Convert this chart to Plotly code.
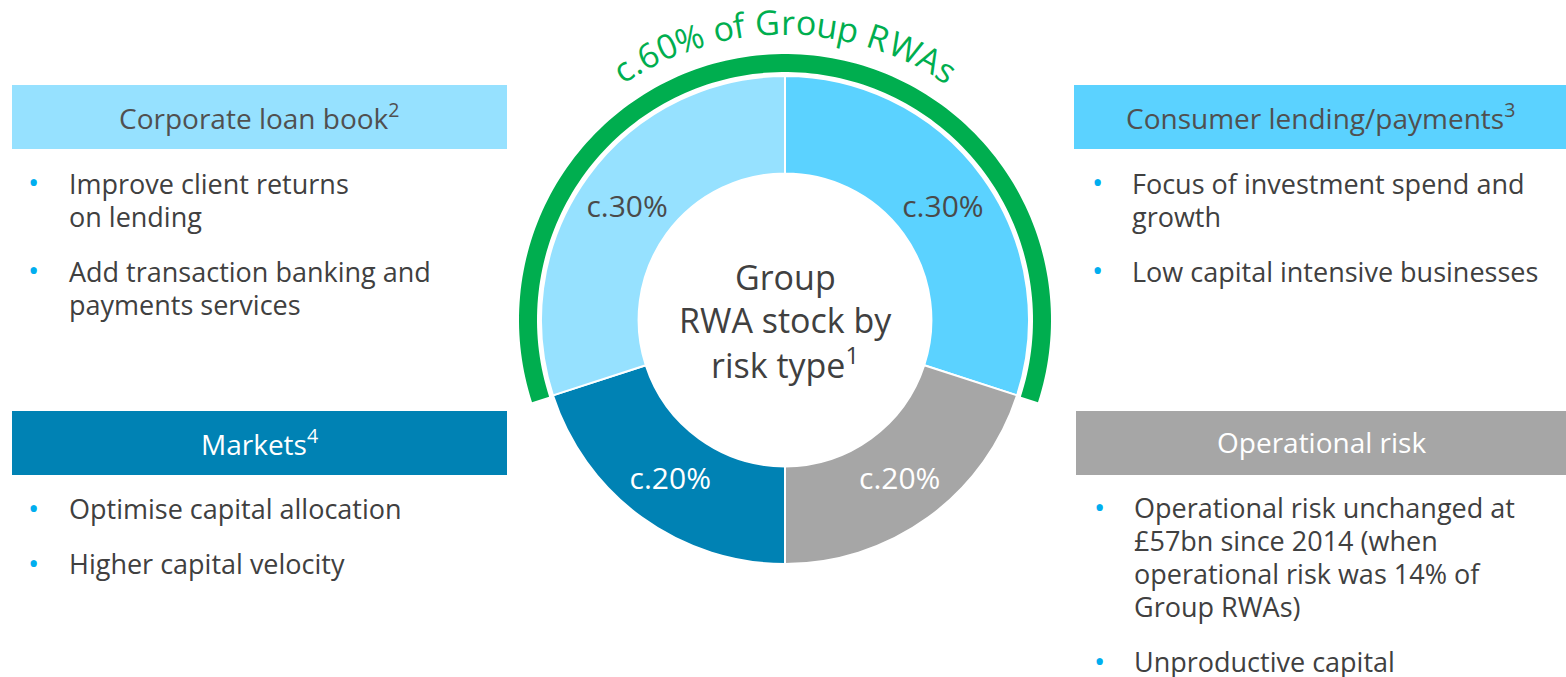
import numpy as np
import plotly.graph_objects as go

W, H = 1566, 677

# ---------------- data ----------------
segments = ["Consumer lending/payments", "Operational risk", "Markets", "Corporate loan book"]
shares = [30, 20, 20, 30]
share_labels = ["c.30%", "c.20%", "c.20%", "c.30%"]
highlighted = ["Corporate loan book", "Consumer lending/payments"]
arc_title = "c.60% of Group RWAs"
center_lines = ["Group", "RWA stock by", "risk type<sup>1</sup>"]

panel_titles = ["Corporate loan book<sup>2</sup>", "Consumer lending/payments<sup>3</sup>",
                "Markets<sup>4</sup>", "Operational risk"]
panel_bullets = [
    [["Improve client returns", "on lending"], ["Add transaction banking and", "payments services"]],
    [["Focus of investment spend and", "growth"], ["Low capital intensive businesses"]],
    [["Optimise capital allocation"], ["Higher capital velocity"]],
    [["Operational risk unchanged at", "£57bn since 2014 (when", "operational risk was 14% of", "Group RWAs)"],
     ["Unproductive capital"]],
]

# ---------------- styles ----------------
seg_colors = ["#5BD2FF", "#A6A6A6", "#0082B4", "#96E1FF"]
seg_text_colors = ["#4A4A4A", "#FFFFFF", "#FFFFFF", "#4A4A4A"]
panel_fill = ["#96E1FF", "#5BD2FF", "#0082B4", "#A6A6A6"]
panel_text = ["#505050", "#505050", "#FFFFFF", "#FFFFFF"]
GREEN = "#00AE4F"
TXT = "#404040"
BULLET = "#00AEEF"
FONT = "Open Sans"

# layout geometry (pixels, top-down)
cx, cy, r = 785, 320, 244
panel_boxes = [(12, 85, 507, 149), (1074, 85, 1566, 149), (12, 411, 507, 475), (1076, 411, 1566, 475)]
panel_text_x = [67, 1130, 67, 1132]
panel_bullet_x = [33, 1097, 33, 1099]
panel_first_line_y = [183, 183, 508, 507]
line_gap = 33
para_gap = 55


def px(x):
    return x / W


def py(y):
    return 1 - y / H


fig = go.Figure()

fig.add_trace(go.Pie(
    labels=segments, values=shares, text=share_labels, textinfo="text",
    sort=False, direction="clockwise", rotation=0, hole=0.6,
    marker=dict(colors=seg_colors, line=dict(color="white", width=2)),
    textfont=dict(family=FONT, size=30, color=seg_text_colors),
    insidetextorientation="horizontal", textposition="inside",
    hoverinfo="label+percent", showlegend=False,
    domain=dict(x=[px(cx - r), px(cx + r)], y=[py(cy + r), py(cy - r)]),
))

shapes = []
annotations = []

# green highlight arc spanning the highlighted segments (derived from shares)
total = float(sum(shares))
corp_share = sum(s for n, s in zip(segments, shares) if n == "Corporate loan book")
cons_share = sum(s for n, s in zip(segments, shares) if n == "Consumer lending/payments")
a0 = -corp_share / total * 2 * np.pi
a1 = cons_share / total * 2 * np.pi
r_in, r_out = 248, 266
t = np.linspace(a0, a1, 160)
outer = [(cx + r_out * np.sin(a), cy - r_out * np.cos(a)) for a in t]
inner = [(cx + r_in * np.sin(a), cy - r_in * np.cos(a)) for a in t[::-1]]
pts = outer + inner
path = "M " + " L ".join(f"{px(x):.5f},{py(y):.5f}" for x, y in pts) + " Z"
shapes.append(dict(type="path", path=path, xref="paper", yref="paper",
                   fillcolor=GREEN, line=dict(width=0), layer="above"))

# curved title along the arc
adv = {" ": 0.26, ".": 0.266, "c": 0.49, "6": 0.572, "0": 0.572, "%": 0.828, "o": 0.604,
       "f": 0.343, "G": 0.726, "r": 0.408, "u": 0.614, "p": 0.613, "R": 0.633, "W": 0.943,
       "A": 0.633, "s": 0.477}
fs_arc = 34
R_base = 285
widths = [adv.get(ch, 0.55) * fs_arc for ch in arc_title]
total_w = sum(widths)
start = -total_w / 2.0
acc = start
for ch, w in zip(arc_title, widths):
    mid = acc + w / 2.0
    acc += w
    if ch == " ":
        continue
    th = mid / R_base
    rc = R_base + 0.39 * fs_arc
    x = cx + rc * np.sin(th)
    y = cy - rc * np.cos(th)
    annotations.append(dict(x=px(x), y=py(y), xref="paper", yref="paper", text=ch,
                            showarrow=False, textangle=float(np.degrees(th)),
                            xanchor="center", yanchor="middle",
                            font=dict(family=FONT, size=fs_arc, color=GREEN)))

# centre text
for i, line in enumerate(center_lines):
    annotations.append(dict(x=px(cx), y=py(cy - 43 + 43 * i), xref="paper", yref="paper",
                            text=line, showarrow=False, xanchor="center", yanchor="middle",
                            font=dict(family=FONT, size=34, color=TXT)))

# panels
for k in range(4):
    x0, y0, x1, y1 = panel_boxes[k]
    shapes.append(dict(type="rect", xref="paper", yref="paper",
                       x0=px(x0), x1=px(x1), y0=py(y1), y1=py(y0),
                       fillcolor=panel_fill[k], line=dict(width=0), layer="below"))
    annotations.append(dict(x=px((x0 + x1) / 2), y=py((y0 + y1) / 2 - 1), xref="paper", yref="paper",
                            text=panel_titles[k], showarrow=False, xanchor="center", yanchor="middle",
                            font=dict(family=FONT, size=28, color=panel_text[k])))
    yy = panel_first_line_y[k]
    for para in panel_bullets[k]:
        annotations.append(dict(x=px(panel_bullet_x[k]), y=py(yy - 1), xref="paper", yref="paper",
                                text="•", showarrow=False, xanchor="center", yanchor="middle",
                                font=dict(family=FONT, size=30, color=BULLET)))
        for j, line in enumerate(para):
            annotations.append(dict(x=px(panel_text_x[k]), y=py(yy + j * line_gap), xref="paper",
                                    yref="paper", text=line, showarrow=False,
                                    xanchor="left", yanchor="middle",
                                    font=dict(family=FONT, size=27, color=TXT)))
        yy += (len(para) - 1) * line_gap + para_gap

fig.update_layout(
    width=W, height=H, margin=dict(l=0, r=0, t=0, b=0),
    paper_bgcolor="white", plot_bgcolor="white",
    shapes=shapes, annotations=annotations, showlegend=False,
    font=dict(family=FONT),
)

fig.write_html("out.html", config={"displayModeBar": False},
               post_script="document.body.style.margin='0';document.body.style.overflow='hidden';")
